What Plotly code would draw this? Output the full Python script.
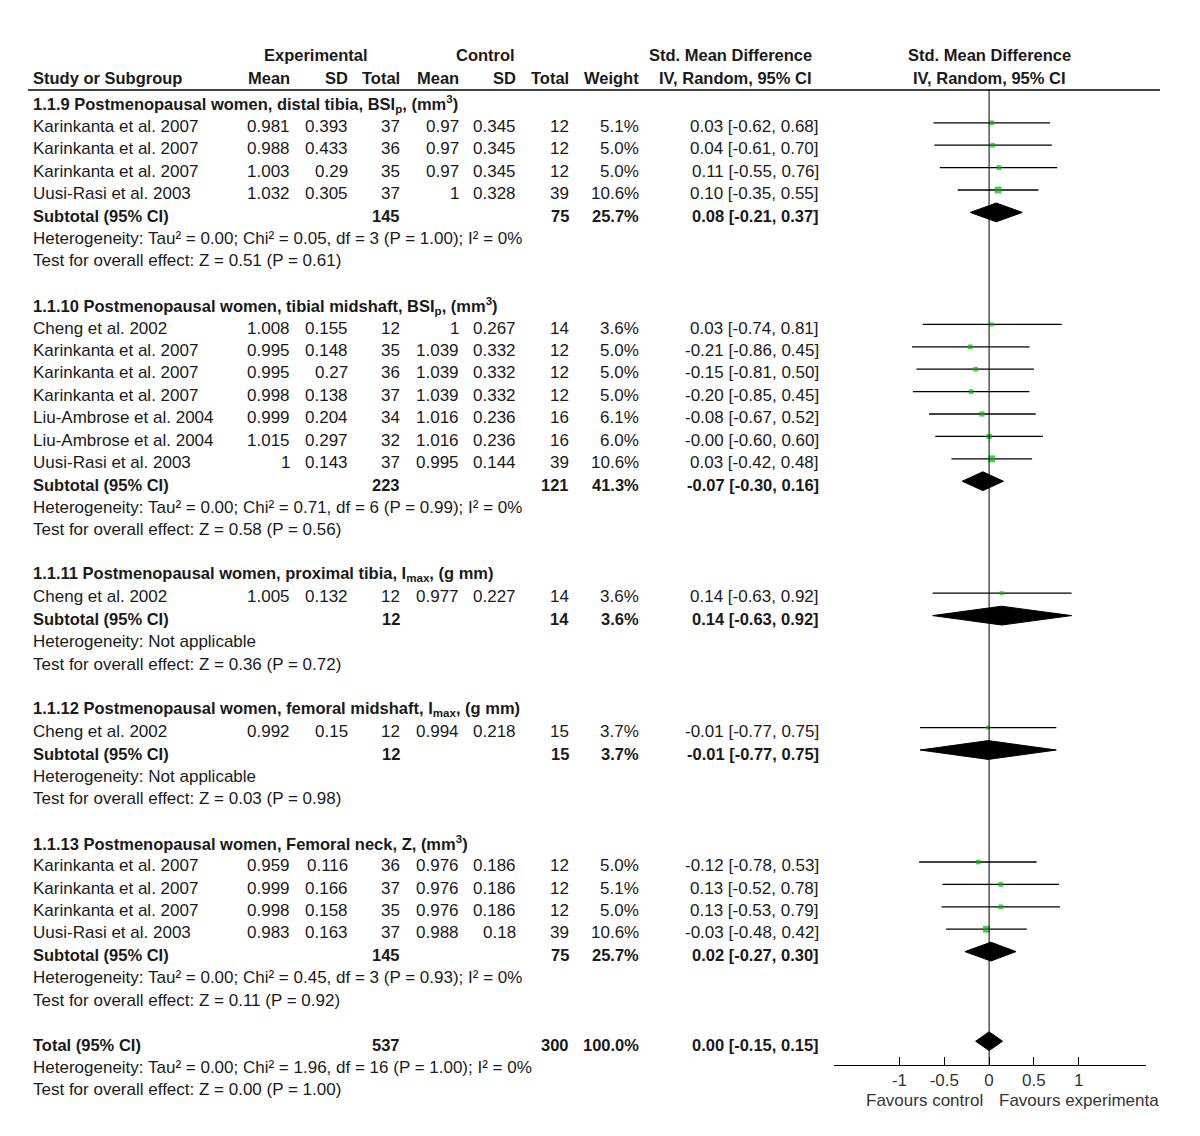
import plotly.graph_objects as go

# ---- data ----
group_titles = [
    "1.1.9 Postmenopausal women, distal tibia, BSI<sub>p</sub>, (mm<sup>3</sup>)",
    "1.1.10 Postmenopausal women, tibial midshaft, BSI<sub>p</sub>, (mm<sup>3</sup>)",
    "1.1.11 Postmenopausal women, proximal tibia, I<sub>max</sub>, (g mm)",
    "1.1.12 Postmenopausal women, femoral midshaft, I<sub>max</sub>, (g mm)",
    "1.1.13 Postmenopausal women, Femoral neck, Z, (mm<sup>3</sup>)",
]

study_group = [0, 0, 0, 0, 1, 1, 1, 1, 1, 1, 1, 2, 3, 4, 4, 4, 4]
study_names = [
    "Karinkanta et al. 2007", "Karinkanta et al. 2007", "Karinkanta et al. 2007", "Uusi-Rasi et al. 2003",
    "Cheng et al. 2002", "Karinkanta et al. 2007", "Karinkanta et al. 2007", "Karinkanta et al. 2007",
    "Liu-Ambrose et al. 2004", "Liu-Ambrose et al. 2004", "Uusi-Rasi et al. 2003",
    "Cheng et al. 2002",
    "Cheng et al. 2002",
    "Karinkanta et al. 2007", "Karinkanta et al. 2007", "Karinkanta et al. 2007", "Uusi-Rasi et al. 2003",
]
exp_mean = [0.981, 0.988, 1.003, 1.032, 1.008, 0.995, 0.995, 0.998, 0.999, 1.015, 1, 1.005, 0.992,
            0.959, 0.999, 0.998, 0.983]
exp_sd = [0.393, 0.433, 0.29, 0.305, 0.155, 0.148, 0.27, 0.138, 0.204, 0.297, 0.143, 0.132, 0.15,
          0.116, 0.166, 0.158, 0.163]
exp_n = [37, 36, 35, 37, 12, 35, 36, 37, 34, 32, 37, 12, 12, 36, 37, 35, 37]
ctl_mean = [0.97, 0.97, 0.97, 1, 1, 1.039, 1.039, 1.039, 1.016, 1.016, 0.995, 0.977, 0.994,
            0.976, 0.976, 0.976, 0.988]
ctl_sd = [0.345, 0.345, 0.345, 0.328, 0.267, 0.332, 0.332, 0.332, 0.236, 0.236, 0.144, 0.227, 0.218,
          0.186, 0.186, 0.186, 0.18]
ctl_n = [12, 12, 12, 39, 14, 12, 12, 12, 16, 16, 39, 14, 15, 12, 12, 12, 39]
weight = [5.1, 5.0, 5.0, 10.6, 3.6, 5.0, 5.0, 5.0, 6.1, 6.0, 10.6, 3.6, 3.7, 5.0, 5.1, 5.0, 10.6]
smd = [0.03, 0.04, 0.11, 0.10, 0.03, -0.21, -0.15, -0.20, -0.08, -0.00, 0.03, 0.14, -0.01,
       -0.12, 0.13, 0.13, -0.03]
smd_lo = [-0.62, -0.61, -0.55, -0.35, -0.74, -0.86, -0.81, -0.85, -0.67, -0.60, -0.42, -0.63, -0.77,
          -0.78, -0.52, -0.53, -0.48]
smd_hi = [0.68, 0.70, 0.76, 0.55, 0.81, 0.45, 0.50, 0.45, 0.52, 0.60, 0.48, 0.92, 0.75,
          0.53, 0.78, 0.79, 0.42]

sub_exp_n = [145, 223, 12, 12, 145]
sub_ctl_n = [75, 121, 14, 15, 75]
sub_weight = [25.7, 41.3, 3.6, 3.7, 25.7]
sub_smd = [0.08, -0.07, 0.14, -0.01, 0.02]
sub_lo = [-0.21, -0.30, -0.63, -0.77, -0.27]
sub_hi = [0.37, 0.16, 0.92, 0.75, 0.30]
sub_het = [
    "Heterogeneity: Tau² = 0.00; Chi² = 0.05, df = 3 (P = 1.00); I² = 0%",
    "Heterogeneity: Tau² = 0.00; Chi² = 0.71, df = 6 (P = 0.99); I² = 0%",
    "Heterogeneity: Not applicable",
    "Heterogeneity: Not applicable",
    "Heterogeneity: Tau² = 0.00; Chi² = 0.45, df = 3 (P = 0.93); I² = 0%",
]
sub_z = [
    "Test for overall effect: Z = 0.51 (P = 0.61)",
    "Test for overall effect: Z = 0.58 (P = 0.56)",
    "Test for overall effect: Z = 0.36 (P = 0.72)",
    "Test for overall effect: Z = 0.03 (P = 0.98)",
    "Test for overall effect: Z = 0.11 (P = 0.92)",
]

total_exp_n = 537
total_ctl_n = 300
total_weight = 100.0
total_smd = 0.00
total_lo = -0.15
total_hi = 0.15
total_het = "Heterogeneity: Tau² = 0.00; Chi² = 1.96, df = 16 (P = 1.00); I² = 0%"
total_z = "Test for overall effect: Z = 0.00 (P = 1.00)"

x_ticks = [-1, -0.5, 0, 0.5, 1]
x_tick_labels = ["-1", "-0.5", "0", "0.5", "1"]

# ---- layout constants (page pixels) ----
PAGE_W, PAGE_H = 1200, 1136
OFF = 8                          # default body margin of the html page
FW, FH = PAGE_W - OFF, PAGE_H - OFF
ROW0 = 104      # page y of first row
PITCH = 22.4    # row height
AXIS_PX = 1065  # page y of forest x-axis line
MARK_DY = -0.16  # marks sit slightly above the text centre
FONT = "Liberation Sans, Arial, sans-serif"
FS = 17
FSB = 16.5
TXT = "#1a1a1a"

# column right edges (page pixels)
C_NAME = 33
C_EMEAN, C_ESD, C_EN = 290, 348, 400
C_CMEAN, C_CSD, C_CN = 459, 516, 569
C_W, C_CI = 639, 819


def row_of_px(px):
    return (px - ROW0) / PITCH


def xp(px):
    return (px - OFF) / FW


def fmt(v):
    return f"{v:g}"


def ci_text(m, lo, hi):
    return f"{m:.2f} [{lo:.2f}, {hi:.2f}]"


annotations = []


def txt(x_px, row, s, anchor="right", bold=False):
    if bold:
        s = "<b>" + s + "</b>"
    annotations.append(dict(
        x=xp(x_px), xref="paper", y=row, yref="y", text=s, showarrow=False,
        xanchor=anchor, yanchor="middle", borderpad=0, borderwidth=0,
        font=dict(family=FONT, size=FSB if bold else FS, color=TXT),
    ))


# column headers
txt(316, row_of_px(55), "Experimental", "center", True)
txt(485, row_of_px(55), "Control", "center", True)
txt(812, row_of_px(55), "Std. Mean Difference", "right", True)
txt(812, row_of_px(78), "IV, Random, 95% CI", "right", True)
txt(C_NAME, row_of_px(78), "Study or Subgroup", "left", True)
for xx, lab in [(C_EMEAN, "Mean"), (C_ESD, "SD"), (C_EN, "Total"), (C_CMEAN, "Mean"),
                (C_CSD, "SD"), (C_CN, "Total"), (C_W, "Weight")]:
    txt(xx, row_of_px(78), lab, "right", True)
for s, px in [("Std. Mean Difference", 55), ("IV, Random, 95% CI", 78)]:
    annotations.append(dict(x=0, xref="x", y=row_of_px(px), yref="y", text="<b>" + s + "</b>",
                            showarrow=False, xanchor="center", yanchor="middle",
                            borderpad=0, borderwidth=0,
                            font=dict(family=FONT, size=FSB, color=TXT)))

# rows
study_rows, sub_rows = [], []
r = 0
for g, title in enumerate(group_titles):
    txt(C_NAME, r, title, "left", True)
    r += 1
    for i in range(len(study_names)):
        if study_group[i] != g:
            continue
        txt(C_NAME, r, study_names[i], "left")
        txt(C_EMEAN, r, fmt(exp_mean[i]))
        txt(C_ESD, r, fmt(exp_sd[i]))
        txt(C_EN, r, str(exp_n[i]))
        txt(C_CMEAN, r, fmt(ctl_mean[i]))
        txt(C_CSD, r, fmt(ctl_sd[i]))
        txt(C_CN, r, str(ctl_n[i]))
        txt(C_W, r, f"{weight[i]:.1f}%")
        txt(C_CI, r, ci_text(smd[i], smd_lo[i], smd_hi[i]))
        study_rows.append(r)
        r += 1
    txt(C_NAME, r, "Subtotal (95% CI)", "left", True)
    txt(C_EN, r, str(sub_exp_n[g]), bold=True)
    txt(C_CN, r, str(sub_ctl_n[g]), bold=True)
    txt(C_W, r, f"{sub_weight[g]:.1f}%", bold=True)
    txt(C_CI, r, ci_text(sub_smd[g], sub_lo[g], sub_hi[g]), bold=True)
    sub_rows.append(r)
    r += 1
    txt(C_NAME, r, sub_het[g], "left")
    r += 1
    txt(C_NAME, r, sub_z[g], "left")
    r += 2

total_row = r
txt(C_NAME, r, "Total (95% CI)", "left", True)
txt(C_EN, r, str(total_exp_n), bold=True)
txt(C_CN, r, str(total_ctl_n), bold=True)
txt(C_W, r, f"{total_weight:.1f}%", bold=True)
txt(C_CI, r, ci_text(total_smd, total_lo, total_hi), bold=True)
txt(C_NAME, r + 1, total_het, "left")
txt(C_NAME, r + 2, total_z, "left")

fig = go.Figure()

# confidence interval whiskers
wx, wy = [], []
for lo, hi, rr in zip(smd_lo, smd_hi, study_rows):
    wx += [lo, hi, None]
    wy += [rr + MARK_DY, rr + MARK_DY, None]
fig.add_trace(go.Scatter(x=wx, y=wy, mode="lines", line=dict(color="black", width=1.3),
                         hoverinfo="skip", showlegend=False))

# study point estimates
fig.add_trace(go.Scatter(
    x=smd, y=[rr + MARK_DY for rr in study_rows], mode="markers",
    marker=dict(symbol="square", color="#00b800", size=[2.1 * w ** 0.5 for w in weight],
                line=dict(width=0)),
    showlegend=False,
))

# pooled diamonds
DH = 0.42
pooled = list(zip(sub_smd, sub_lo, sub_hi, sub_rows)) + [(total_smd, total_lo, total_hi, total_row)]
for m, lo, hi, rr in pooled:
    yc = rr + MARK_DY
    fig.add_trace(go.Scatter(
        x=[lo, m, hi, m, lo], y=[yc, yc - DH, yc, yc + DH, yc], mode="lines",
        fill="toself", fillcolor="black", line=dict(color="black", width=1),
        hoverinfo="skip", showlegend=False,
    ))

y_top = row_of_px(OFF)
y_bot = row_of_px(PAGE_H)
y_axis_row = row_of_px(AXIS_PX)
header_line = row_of_px(90)

shapes = [
    dict(type="line", xref="paper", yref="y", x0=xp(28), x1=xp(1160), y0=header_line, y1=header_line,
         line=dict(color="black", width=1.5)),
    dict(type="line", xref="x", yref="y", x0=0, x1=0, y0=header_line, y1=y_axis_row,
         line=dict(color="black", width=1)),
]

for label, anchor, shift in [("Favours control", "right", -6), ("Favours experimenta", "left", 10)]:
    annotations.append(dict(x=0, xref="x", y=row_of_px(1100), yref="y", text=label,
                            showarrow=False, xanchor=anchor, xshift=shift, yanchor="middle",
                            borderpad=0, borderwidth=0,
                            font=dict(family=FONT, size=FS, color="#333333")))

fig.update_layout(
    width=FW, height=FH, autosize=False,
    margin=dict(l=0, r=0, t=0, b=0),
    plot_bgcolor="white", paper_bgcolor="white",
    shapes=shapes, annotations=annotations,
    xaxis=dict(domain=[xp(834), xp(1146)], range=[-1.73, 1.75], tickvals=x_ticks,
               ticktext=x_tick_labels, ticks="inside", ticklen=8, tickcolor="black",
               anchor="free", position=(PAGE_H - AXIS_PX) / FH,
               showline=True, linecolor="black", linewidth=1, showgrid=False, zeroline=False,
               tickfont=dict(family=FONT, size=FS, color="#333333")),
    yaxis=dict(domain=[0, 1], range=[y_bot, y_top], visible=False,
               showgrid=False, zeroline=False),
)

fig.write_html("out.html")
